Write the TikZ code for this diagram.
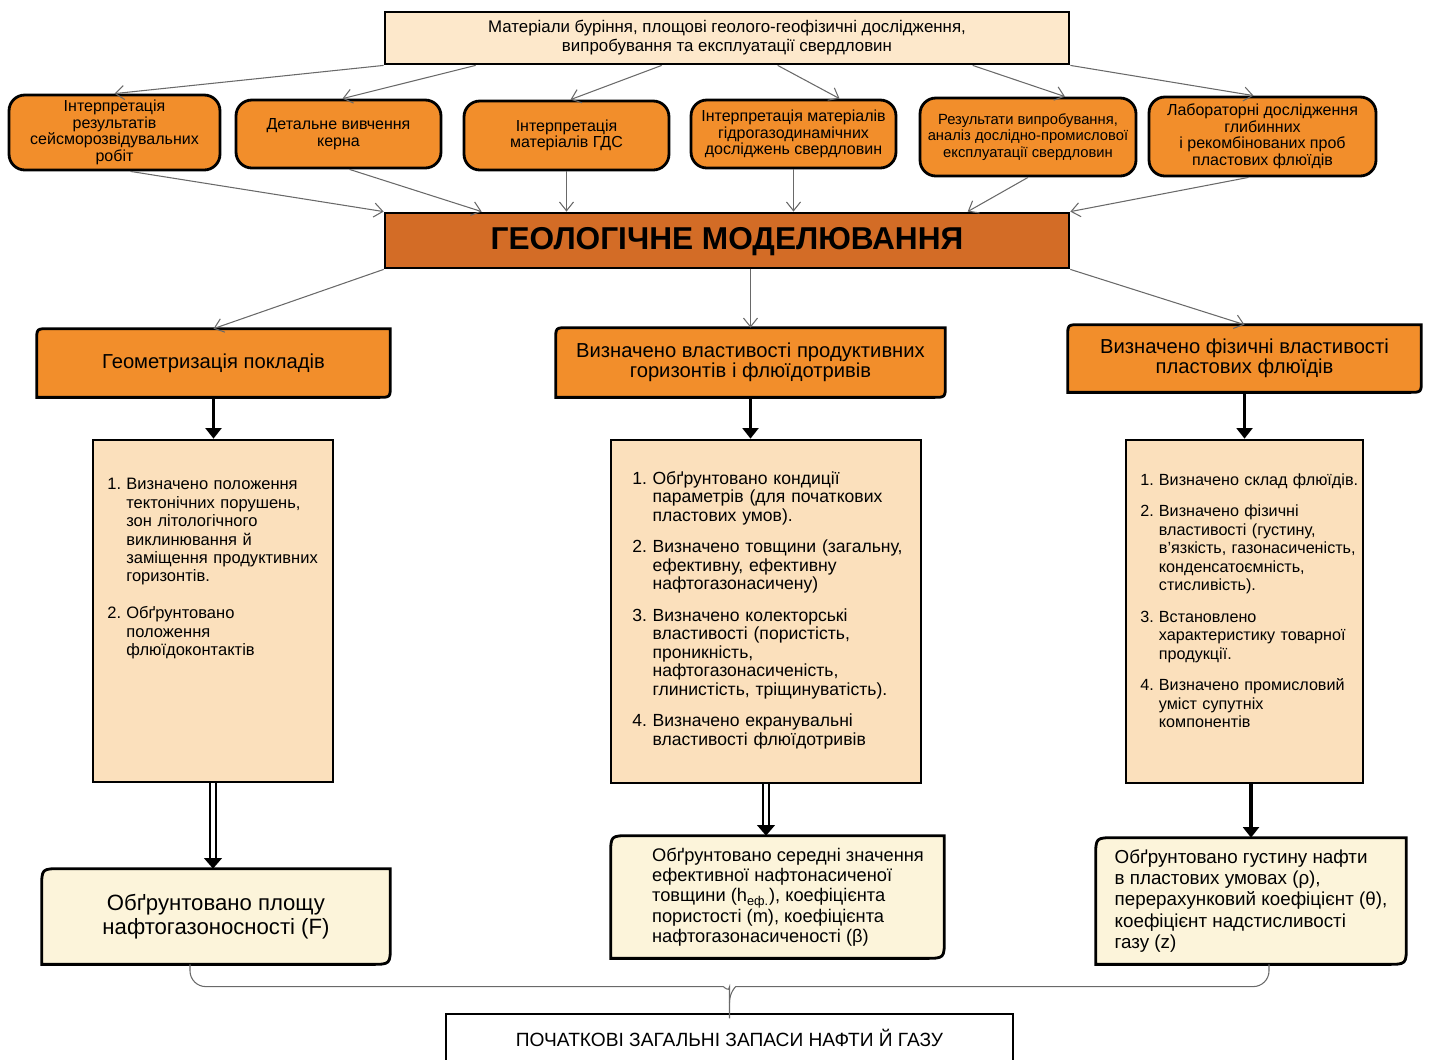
\documentclass[tikz,border=0pt]{standalone}
\usepackage{fontspec}
\setmainfont{Liberation Sans}
\usetikzlibrary{arrows.meta, positioning, calc, backgrounds}
\definecolor{srcfill}{RGB}{253,232,203}
\definecolor{orgfill}{RGB}{242,142,43}
\definecolor{titlefill}{RGB}{211,108,38}
\definecolor{listfill}{RGB}{251,224,188}
\definecolor{resfill}{RGB}{252,244,218}
\definecolor{linkgray}{RGB}{105,105,105}

% outline with rounded top-left and bottom-right corners
\newcommand{\oppbox}[3]{%
  \draw[line width=1.6pt, fill=#2] (#1.south west) -- ([yshift=-#3]#1.north west)
    .. controls (#1.north west) .. ([xshift=#3]#1.north west) -- (#1.north east)
    -- ([yshift=#3]#1.south east) .. controls (#1.south east) .. ([xshift=-#3]#1.south east) -- cycle;}
% numbered item with hanging indent (lines broken by \newline)
\newcommand{\litem}[2]{\noindent\hangindent=1.15em\hangafter=1\makebox[1.15em][l]{#1}#2\par}

\begin{document}
\begin{tikzpicture}[x=0.02cm, y=-0.02cm,
  srcbox/.style={draw, line width=1.6pt, fill=srcfill, align=center, font=\fontsize{9.6}{10.8}\selectfont},
  orgbox/.style={draw, line width=1.6pt, fill=orgfill, rounded corners=9pt, align=center, inner sep=2pt, font=\fontsize{9.1}{9.4}\selectfont},
  titlebox/.style={draw, line width=1.6pt, fill=titlefill, font=\fontsize{18}{20}\selectfont\bfseries},
  headbox/.style={align=center, font=\fontsize{11.5}{11.6}\selectfont},
  listbox/.style={draw, line width=1.6pt, fill=listfill},
  listtext/.style={anchor=north west, inner sep=0pt, align=left},
  resbox/.style={align=left, font=\fontsize{10.7}{12}\selectfont},
  finbox/.style={draw, line width=1.6pt, fill=white, font=\fontsize{10.9}{12}\selectfont},
  thinlink/.style={draw=linkgray, line width=0.6pt, -{Straight Barb[length=5pt,width=8pt]}},
  thicklink/.style={line width=2.2pt, -{Triangle[length=6pt,width=9pt]}},
  dbllink/.style={double, double distance=1.8pt, line width=1.2pt, -{Triangle[length=6pt,width=10pt]}},
  bracelink/.style={draw=linkgray, line width=0.6pt, rounded corners=9pt}]
\useasboundingbox (0,0) rectangle (1429,1059);

% Source data
\node[srcbox, minimum width=13.68cm, minimum height=1.04cm] (top) at (727,38)
  {Матеріали буріння, площові геолого-геофізичні дослідження,\\випробування та експлуатації свердловин};

% Row of input studies
\node[orgbox, minimum width=4.22cm, minimum height=1.5cm] (o1) at (114.5,132.5)
  {Інтерпретація\\результатів\\сейсморозвідувальних\\робіт};
\node[orgbox, minimum width=4.1cm, minimum height=1.36cm] (o2) at (338.5,134)
  {Детальне вивчення\\керна};
\node[orgbox, minimum width=4.1cm, minimum height=1.38cm] (o3) at (566.5,135.5)
  {Інтерпретація\\матеріалів ГДС};
\node[orgbox, minimum width=4.1cm, minimum height=1.36cm] (o4) at (793.5,134)
  {Інтерпретація матеріалів\\гідрогазодинамічних\\досліджень свердловин};
\node[orgbox, minimum width=4.32cm, minimum height=1.56cm, font=\fontsize{8.4}{9.2}\selectfont] (o5) at (1028,137)
  {Результати випробування,\\аналіз дослідно-промислової\\експлуатації свердловин};
\node[orgbox, minimum width=4.54cm, minimum height=1.58cm] (o6) at (1262.5,136.5)
  {Лабораторні дослідження\\глибинних\\і рекомбінованих проб\\пластових флюїдів};

\draw[thinlink] (top.south west) -- (o1.north);
\draw[thinlink] ($(top.south west)+(92,0)$) -- ($(o2.north)+(4,0)$);
\draw[thinlink] ($(top.south west)+(278,0)$) -- ($(o3.north)+(4,0)$);
\draw[thinlink] ($(top.south west)+(394,0)$) -- ($(o4.north)+(46,0)$);
\draw[thinlink] ($(top.south west)+(589,0)$) -- ($(o5.north)+(37,0)$);
\draw[thinlink] (top.south east) -- ($(o6.north)+(-9,0)$);

% Central block
\node[titlebox, minimum width=13.68cm, minimum height=1.1cm, text depth=0.5ex] (title) at (727,240.5) {ГЕОЛОГІЧНЕ МОДЕЛЮВАННЯ};

\draw[thinlink] ($(o1.south)+(16,0)$) -- (title.north west);
\draw[thinlink] ($(o2.south)+(11,0)$) -- ($(title.north west)+(98,0)$);
\draw[thinlink] (o3.south) -- (o3.south |- title.north);
\draw[thinlink] (o4.south) -- (o4.south |- title.north);
\draw[thinlink] (o5.south) -- ($(title.north west)+(584,0)$);
\draw[thinlink] ($(o6.south)+(-14,0)$) -- (title.north east);

% Three branches
\node[headbox, minimum width=7.06cm, minimum height=1.36cm] (h1) at (213.5,363) {Геометризація покладів};
\node[headbox, minimum width=7.78cm, minimum height=1.38cm] (h2) at (750.5,362.5)
  {Визначено властивості продуктивних\\горизонтів і флюїдотривів};
\node[headbox, minimum width=7.06cm, minimum height=1.34cm] (h3) at (1244.5,358.5)
  {Визначено фізичні властивості\\пластових флюїдів};

\draw[thinlink] (title.south west) -- (h1.north);
\draw[thinlink] (title.south -| h2.north) -- (h2.north);
\draw[thinlink] (title.south east) -- (h3.north);

% Lists of results
\node[listbox, minimum width=4.8cm, minimum height=6.84cm] (l1) at (213,611) {};
\node[listtext, text width=4.6cm, font=\fontsize{9.4}{10.5}\selectfont] (l1txt) at (107,478) {\setlength{\parskip}{10.5pt}%
  \litem{1.}{Визначено положення\newline тектонічних порушень,\newline зон літологічного\newline виклинювання й\newline заміщення продуктивних\newline горизонтів.}
  \litem{2.}{Обґрунтовано\newline положення\newline флюїдоконтактів}};

\node[listbox, minimum width=6.2cm, minimum height=6.86cm] (l2) at (766,611.5) {};
\node[listtext, text width=5.9cm, font=\fontsize{10}{10.5}\selectfont] (l2txt) at (632,471) {\setlength{\parskip}{7.5pt}%
  \litem{1.}{Обґрунтовано кондиції\newline параметрів (для початкових\newline пластових умов).}
  \litem{2.}{Визначено товщини (загальну,\newline ефективну, ефективну\newline нафтогазонасичену)}
  \litem{3.}{Визначено колекторські\newline властивості (пористість,\newline проникність,\newline нафтогазонасиченість,\newline глинистість, тріщинуватість).}
  \litem{4.}{Визначено екранувальні\newline властивості флюїдотривів}};

\node[listbox, minimum width=4.74cm, minimum height=6.86cm] (l3) at (1244.5,611.5) {};
\node[listtext, text width=4.6cm, font=\fontsize{9.2}{10.5}\selectfont] (l3txt) at (1140,473) {\setlength{\parskip}{7.5pt}%
  \litem{1.}{Визначено склад флюїдів.}
  \litem{2.}{Визначено фізичні\newline властивості (густину,\newline в’язкість, газонасиченість,\newline конденсатоємність,\newline стисливість).}
  \litem{3.}{Встановлено\newline характеристику товарної\newline продукції.}
  \litem{4.}{Визначено промисловий\newline уміст супутніх\newline компонентів}};

\draw[thicklink] (h1.south) -- (h1.south |- l1.north);
\draw[thicklink] (h2.south) -- (h2.south |- l2.north);
\draw[thicklink] (h3.south) -- (l3.north);

% Calculated parameters
\node[resbox, align=center, minimum width=6.96cm, minimum height=1.9cm, font=\fontsize{12.6}{13.6}\selectfont] (b1) at (216,916.5)
  {Обґрунтовано площу\\нафтогазоносності (F)};
\node[resbox, minimum width=6.66cm, minimum height=2.44cm, font=\fontsize{10.4}{11.5}\selectfont] (b2) at (777.5,897)
  {\hspace*{12pt}Обґрунтовано середні значення\\\hspace*{12pt}ефективної нафтонасиченої\\\hspace*{12pt}товщини (h\textsubscript{еф.}), коефіцієнта\\\hspace*{12pt}пористості (m), коефіцієнта\\\hspace*{12pt}нафтогазонасиченості (β)};
\node[resbox, minimum width=6.2cm, minimum height=2.52cm] (b3) at (1251,901)
  {Обґрунтовано густину нафти\\в пластових умовах (ρ),\\перерахунковий коефіцієнт (θ),\\коефіцієнт надстисливості\\газу (z)};

\begin{scope}[on background layer]
  \oppbox{h1}{orgfill}{7pt}
  \oppbox{h2}{orgfill}{7pt}
  \oppbox{h3}{orgfill}{7pt}
  \oppbox{b1}{resfill}{11pt}
  \oppbox{b2}{resfill}{11pt}
  \oppbox{b3}{resfill}{11pt}
\end{scope}

\draw[dbllink] (l1.south) -- (l1.south |- b1.north);
\draw[dbllink] (l2.south) -- (l2.south |- b2.north);
\draw[thicklink] (b3.north |- l3.south) -- (b3.north);

% Total reserves
\node[finbox, minimum width=11.34cm, minimum height=0.96cm] (fin) at (729.5,1038) {ПОЧАТКОВІ ЗАГАЛЬНІ ЗАПАСИ НАФТИ Й ГАЗУ};
\draw[bracelink] ($(b1.south)+(-26,0)$) |- ($(fin.north)+(-22,-26)$)
  .. controls ($(fin.north)+(-6,-26)$) and ($(fin.north)+(0,-20)$) .. ($(fin.north)+(0,-10)$) -- (fin.north);
\draw[bracelink] ($(b3.south)+(18,0)$) |- ($(fin.north)+(22,-26)$)
  .. controls ($(fin.north)+(6,-26)$) and ($(fin.north)+(0,-20)$) .. ($(fin.north)+(0,-10)$);
\end{tikzpicture}
\end{document}
